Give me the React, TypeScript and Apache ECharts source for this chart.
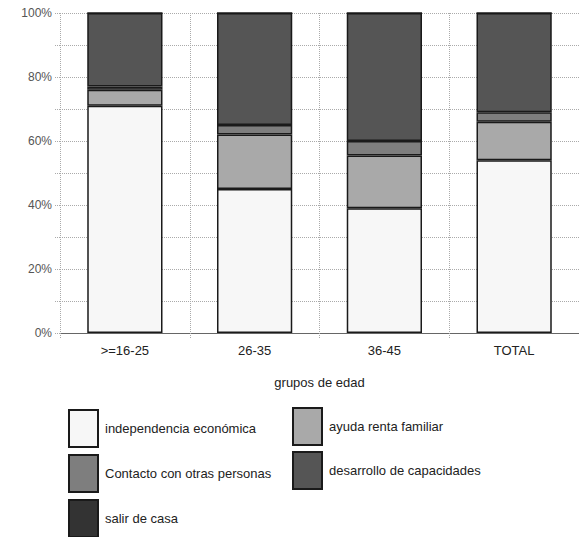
import React, { useEffect, useRef } from "react";
import * as echarts from "echarts";

const categories = [">=16-25", "26-35", "36-45", "TOTAL"];
const independencia = [71, 45, 39, 54];
const ayuda = [5, 17, 16.5, 12];
const contacto = [1, 3, 4.5, 3];
const desarrollo = [23, 35, 40, 31];
const salir = [0, 0, 0, 0];
const yTicks = [0, 20, 40, 60, 80, 100];

const FONT = "Liberation Sans, Arial, sans-serif";

export default function App() {
  const ref = useRef<HTMLDivElement>(null);
  useEffect(() => {
    if (!ref.current) return;
    const chart = echarts.init(ref.current, null, { renderer: "svg" });
    const border = { borderColor: "#1a1a1a", borderWidth: 1.5 };
    const mk = (name: string, data: number[], color: string) => ({
      name,
      type: "bar",
      stack: "total",
      data,
      barWidth: "58%",
      itemStyle: { color, ...border },
    });
    const leg = (name: string, left: number, top: number) => ({
      orient: "vertical",
      left,
      top,
      padding: 0,
      itemWidth: 29,
      itemHeight: 37,
      itemGap: 7,
      icon: "rect",
      textStyle: { fontSize: 13, color: "#222", fontFamily: FONT, padding: [0, 0, 0, 2] },
      data: [name],
    });
    chart.setOption({
      animation: false,
      backgroundColor: "#ffffff",
      textStyle: { fontFamily: FONT },
      grid: { left: 60, top: 13, width: 520, height: 320, containLabel: false },
      xAxis: {
        type: "category",
        data: categories,
        name: "grupos de edad",
        nameLocation: "middle",
        nameGap: 43,
        nameTextStyle: { fontSize: 13, color: "#222", fontFamily: FONT },
        axisLine: { show: true, lineStyle: { color: "#666", width: 1 } },
        axisTick: { show: true, length: 5, lineStyle: { color: "#aaa", type: "dotted" } },
        axisLabel: { fontSize: 13, color: "#222", margin: 11, fontFamily: FONT },
        splitLine: { show: true, lineStyle: { color: "#aaa", type: "dotted", width: 1 } },
      },
      yAxis: {
        type: "value",
        min: 0,
        max: 100,
        interval: 10,
        axisLine: { show: false },
        axisTick: { show: true, length: 6, lineStyle: { color: "#aaa", type: "dotted" } },
        axisLabel: {
          fontSize: 12,
          color: "#555",
          margin: 8,
          fontFamily: FONT,
          formatter: (v: number) => (yTicks.includes(v) ? v + "%" : ""),
        },
        splitLine: { show: true, lineStyle: { color: "#aaa", type: "dotted", width: 1 } },
      },
      legend: [
        leg("independencia económica", 68, 409),
        leg("Contacto con otras personas", 68, 454),
        leg("salir de casa", 68, 499),
        leg("ayuda renta familiar", 292, 407),
        leg("desarrollo de capacidades", 292, 451),
      ],
      series: [
        mk("independencia económica", independencia, "#f7f7f7"),
        mk("ayuda renta familiar", ayuda, "#a9a9a9"),
        mk("Contacto con otras personas", contacto, "#7e7e7e"),
        mk("desarrollo de capacidades", desarrollo, "#555555"),
        mk("salir de casa", salir, "#333333"),
      ],
    });
    return () => chart.dispose();
  }, []);
  return (
    <div
      ref={ref}
      style={{ position: "fixed", left: 0, top: 0, width: 579, height: 537, background: "#fff" }}
    />
  );
}
